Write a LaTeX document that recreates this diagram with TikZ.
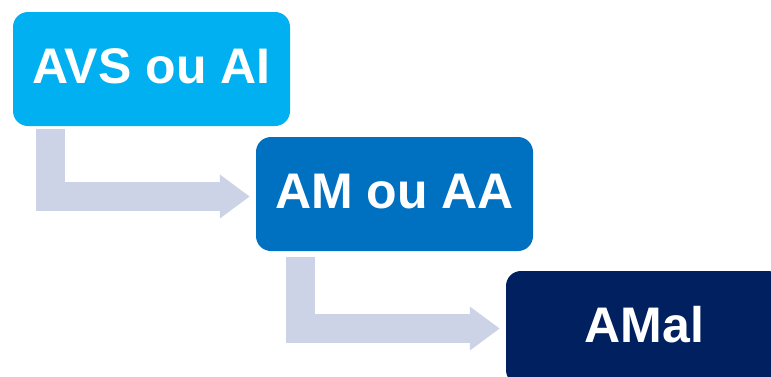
\documentclass[tikz,border=0pt]{standalone}
\usepackage{fontspec}
\setmainfont{Liberation Sans}
\usetikzlibrary{calc,arrows.meta}

\definecolor{avsblue}{HTML}{00B0F0}
\definecolor{amblue}{HTML}{0070C0}
\definecolor{amalblue}{HTML}{002060}
\definecolor{flowgrey}{HTML}{CDD3E6}

\begin{document}
\begin{tikzpicture}[x=1pt,y=-1pt,
  stage/.style={rounded corners=15pt, minimum width=277pt, minimum height=114pt,
    text=white, font=\fontsize{50}{60}\selectfont\bfseries,
    text height=36pt, text depth=7pt, inner sep=0pt},
  flow/.style={flowgrey, line width=29pt,
    -{Triangle[length=30pt,width=42pt]}}]
  \useasboundingbox (0,0) rectangle (771,376);

  \node[stage, fill=avsblue] (avs) at (151.5,69) {AVS ou AI};
  \node[stage, fill=amblue] (am) at (394.5,194) {AM ou AA};
  \node[stage, fill=amalblue] (amal) at (644.5,328) {AMal};

  % bent arrows between the stages
  \draw[flow] ($(avs.south west)+(38,3)$) |- ($(am.west)+(-6,2.5)$);
  \draw[flow] ($(am.south west)+(44.5,6)$) |- ($(amal.west)+(-6,0.5)$);
\end{tikzpicture}
\end{document}
